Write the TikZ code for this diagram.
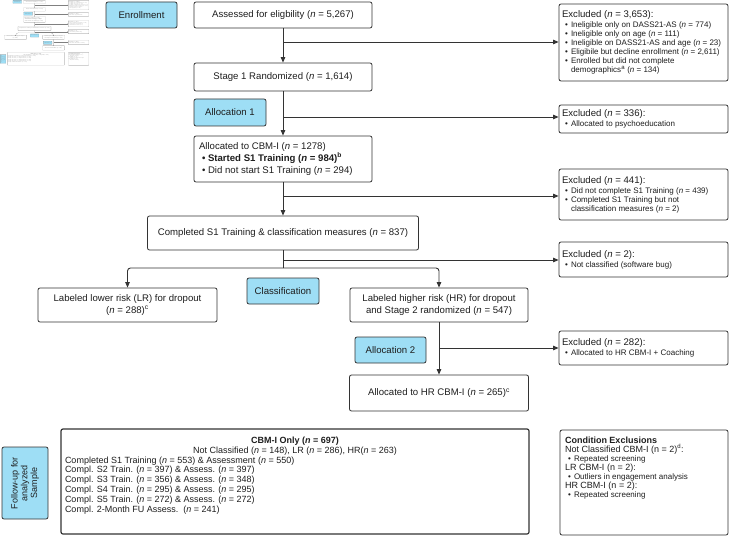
\documentclass[tikz,border=0pt]{standalone}
\usepackage{fontspec}
\setmainfont{Liberation Sans}
\usepackage{xcolor}
\usepackage{tikz}
\usetikzlibrary{arrows.meta, positioning, calc}
\definecolor{phaseblue}{RGB}{158, 222, 245}
\definecolor{linegray}{RGB}{51, 51, 51}
\definecolor{textgray}{RGB}{30, 30, 30}

\newcommand{\nn}{\textit{n}}
\newcommand{\mainsz}{\fontsize{9.6}{11}\selectfont}
\newcommand{\subsz}{\fontsize{8}{9}\selectfont}
\newcommand{\listsz}{\fontsize{9}{9.8}\selectfont}
\newcommand{\bul}[1]{\par\hangindent=9pt\hangafter=1\hspace*{3pt}\makebox[6pt][l]{\textbullet}#1}

% whole chart, drawn twice (thumbnail + full size)
\newcommand{\flowchart}{%
  % phase labels
  \node[phase, minimum width=71, minimum height=26] (enroll) at (141.5,15) {Enrollment};
  \node[phase, minimum width=72, minimum height=27] (alloc1) at (230,112.5) {Allocation 1};
  \node[phase, minimum width=72, minimum height=26] (classif) at (283,291) {Classification};
  \node[phase, minimum width=71, minimum height=26] (alloc2) at (390.5,350) {Allocation 2};
  \node[phase, rotate=90, minimum width=72, minimum height=46, font=\listsz] (follow) at (25,483) {Follow-up for\\analyzed\\Sample};
  % main column
  \node[box, minimum width=178, minimum height=26] (assess) at (283,15) {Assessed for eligbility (\nn{} = 5,267)};
  \node[box, minimum width=178, minimum height=28] (stage1) at (283,77) {Stage 1 Randomized (\nn{} = 1,614)};
  \node[box, minimum width=178, minimum height=46] (cbmi) at (283,159) {\parbox{168pt}{\fontsize{9.6}{12}\selectfont\raggedright
    Allocated to CBM-I (\nn{} = 1278)\par
    \hspace*{3pt}\textbf{\textbullet\ Started S1 Training (\textit{n} = 984)\textsuperscript{b}}\par
    \hspace*{3pt}\textbullet\ Did not start S1 Training (\nn{} = 294)}};
  \node[box, minimum width=271, minimum height=34] (compl) at (283,233) {Completed S1 Training \& classification measures (\nn{} = 837)};
  \node[box, minimum width=179, minimum height=34] (lr) at (127.5,305) {Labeled lower risk (LR) for dropout\\[1pt](\nn{} = 288)\textsuperscript{c}};
  \node[box, minimum width=178, minimum height=34] (hr) at (439,305) {Labeled higher risk (HR) for dropout\\[1pt]and Stage 2 randomized (\nn{} = 547)};
  \node[box, minimum width=179, minimum height=36] (hrcbm) at (439,393) {Allocated to HR CBM-I (\nn{} = 265)\textsuperscript{c}};
  % exclusions
  \node[box, minimum width=169, minimum height=77] (ex1) at (643.5,42.5) {\parbox{163pt}{\raggedright
    Excluded (\nn{} = 3,653):\par\vspace{1pt}\subsz
    \bul{Ineligible only on DASS21-AS (\nn{} = 774)}
    \bul{Ineligible only on age (\nn{} = 111)}
    \bul{Ineligible on DASS21-AS and age (\nn{} = 23)}
    \bul{Eligibile but decline enrollment (\nn{} = 2,611)}
    \bul{Enrolled but did not complete\newline demographics\textsuperscript{a} (\nn{} = 134)}}};
  \node[box, minimum width=169, minimum height=28] (ex2) at (643.5,119) {\parbox{163pt}{\raggedright
    Excluded (\nn{} = 336):\par\vspace{1pt}\subsz
    \bul{Allocated to psychoeducation}}};
  \node[box, minimum width=169, minimum height=51] (ex3) at (643.5,194.5) {\parbox{163pt}{\raggedright
    Excluded (\nn{} = 441):\par\vspace{1pt}\subsz
    \bul{Did not complete S1 Training (\nn{} = 439)}
    \bul{Completed S1 Training but not\newline classification measures (\nn{} = 2)}}};
  \node[box, minimum width=169, minimum height=35] (ex4) at (643.5,259.5) {\parbox{163pt}{\raggedright
    Excluded (\nn{} = 2):\par\vspace{1pt}\subsz
    \bul{Not classified (software bug)}}};
  \node[box, minimum width=169, minimum height=34] (ex5) at (643.5,348) {\parbox{163pt}{\raggedright
    Excluded (\nn{} = 282):\par\vspace{1pt}\subsz
    \bul{Allocated to HR CBM-I + Coaching}}};
  % follow-up
  \node[sumbox, minimum width=468, minimum height=105] (cbmonly) at (295,481.5) {\parbox[c][97pt][t]{460pt}{\listsz\centering
    \vspace*{4pt}\textbf{CBM-I Only (\textit{n} = 697)}\\
    Not Classified (\nn{} = 148), LR (\nn{} = 286), HR(\nn{} = 263)\par\raggedright
    Completed S1 Training (\nn{} = 553) \& Assessment (\nn{} = 550)\\
    Compl. S2 Train. (\nn{} = 397) \& Assess. (\nn{} = 397)\\
    Compl. S3 Train. (\nn{} = 356) \& Assess. (\nn{} = 348)\\
    Compl. S4 Train. (\nn{} = 295) \& Assess. (\nn{} = 295)\\
    Compl. S5 Train. (\nn{} = 272) \& Assess. (\nn{} = 272)\\
    Compl. 2-Month FU Assess.\ \ (\nn{} = 241)}};
  \node[box, minimum width=168, minimum height=105] (condex) at (644,482.5) {\parbox[c][97pt][t]{158pt}{\raggedright\listsz
    \vspace*{3pt}\textbf{Condition Exclusions}\par
    Not Classified CBM-I (n = 2)\textsuperscript{d}:\subsz
    \bul{Repeated screening}\par\listsz
    LR CBM-I (n = 2):\subsz
    \bul{Outliers in engagement analysis}\par\listsz
    HR CBM-I (n = 2):\subsz
    \bul{Repeated screening}}};
  % connectors
  \coordinate (br1) at (283,42);
  \coordinate (br2) at (283,117);
  \coordinate (br3) at (283,196);
  \coordinate (br4) at (283,260);
  \coordinate (split) at (283,268);
  \coordinate (br5) at (439,348);
  \draw[arr] (assess) -- (stage1);
  \draw[arr] (br1) -- (br1 -| ex1.west);
  \draw[arr] (stage1) -- (cbmi);
  \draw[arr] (br2) -- (br2 -| ex2.west);
  \draw[arr] (cbmi) -- (compl);
  \draw[arr] (br3) -- (br3 -| ex3.west);
  \draw[flow] (compl) -- (split);
  \draw[arr] (br4) -- (br4 -| ex4.west);
  \draw[arr, rounded corners=3pt] (split) -| (lr.north);
  \draw[arr, rounded corners=3pt] (split) -| (hr.north);
  \draw[arr] (hr) -- (hrcbm);
  \draw[arr] (br5) -- (br5 -| ex5.west);
}

\begin{document}
\begin{tikzpicture}[x=1pt, y=-1pt, font=\mainsz, text=textgray,
  box/.style={draw=linegray, line width=0.8pt, rounded corners=2pt, fill=white, inner sep=0pt, align=center},
  sumbox/.style={box, line width=1.2pt},
  phase/.style={box, fill=phaseblue},
  flow/.style={draw=linegray, line width=0.9pt},
  arr/.style={flow, -{Triangle[length=5.5pt, width=4.5pt]}}]
  \useasboundingbox (0,0) rectangle (730,537);
  % small copy in the corner
  \begin{scope}[scale=0.122, transform shape, text=black!45,
    box/.append style={line width=0.12pt, rounded corners=0.3pt, draw=black!50},
    sumbox/.append style={line width=0.15pt},
    flow/.append style={line width=0.12pt, draw=black!50},
    arr/.append style={-{Triangle[length=0.7pt, width=0.55pt]}}]
    \flowchart
  \end{scope}
  \flowchart
\end{tikzpicture}
\end{document}
